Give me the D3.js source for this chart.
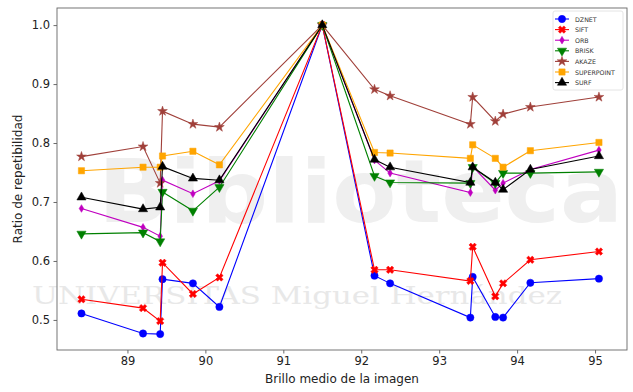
<!DOCTYPE html>
<html>
<head>
<meta charset="utf-8">
<script src="https://cdn.jsdelivr.net/npm/d3@7"></script>
<style>
  html, body { margin: 0; padding: 0; background: #fff; }
  svg { display: block; font-family: "DejaVu Sans", sans-serif; }
</style>
</head>
<body>
<svg id="chart" width="633" height="392"></svg>
<script>
// Mean image brightness for each test image
const brightness = [88.41, 89.20, 89.42, 89.45, 89.84, 90.18, 91.50, 92.17, 92.37, 93.40, 93.43, 93.72, 93.82, 94.17, 95.05];

// Repeatability ratio per detector
const dznet      = [0.511, 0.477, 0.476, 0.569, 0.562, 0.522, 1.0, 0.575, 0.562, 0.504, 0.573, 0.505, 0.504, 0.563, 0.570];
const sift       = [0.535, 0.520, 0.498, 0.597, 0.544, 0.572, 1.0, 0.585, 0.585, 0.566, 0.624, 0.540, 0.562, 0.602, 0.616];
const orb        = [0.689, 0.657, 0.642, 0.737, 0.714, 0.736, 1.0, 0.771, 0.749, 0.716, 0.760, 0.720, 0.732, 0.755, 0.788];
const brisk      = [0.646, 0.648, 0.633, 0.717, 0.685, 0.725, 1.0, 0.744, 0.733, 0.732, 0.759, 0.732, 0.749, 0.749, 0.751];
const akaze      = [0.777, 0.794, 0.732, 0.854, 0.832, 0.827, 1.0, 0.891, 0.880, 0.832, 0.878, 0.837, 0.849, 0.861, 0.878];
const superpoint = [0.753, 0.759, 0.759, 0.778, 0.786, 0.763, 1.0, 0.784, 0.783, 0.774, 0.797, 0.774, 0.759, 0.787, 0.801];
const surf       = [0.708, 0.688, 0.691, 0.760, 0.740, 0.737, 1.0, 0.772, 0.759, 0.733, 0.759, 0.733, 0.721, 0.755, 0.778];

const seriesNames = ["DZNET", "SIFT", "ORB", "BRISK", "AKAZE", "SUPERPOINT", "SURF"];
const xTicks = [89, 90, 91, 92, 93, 94, 95];
const yTicks = [0.5, 0.6, 0.7, 0.8, 0.9, 1.0];

const series = [
  { name: seriesNames[0], values: dznet,      color: "#0000ff", marker: "circle" },
  { name: seriesNames[1], values: sift,       color: "#ff0000", marker: "x" },
  { name: seriesNames[2], values: orb,        color: "#c000c0", marker: "thindiamond" },
  { name: seriesNames[3], values: brisk,      color: "#008000", marker: "tridown" },
  { name: seriesNames[4], values: akaze,      color: "#a0403a", marker: "star" },
  { name: seriesNames[5], values: superpoint, color: "#ffa500", marker: "square" },
  { name: seriesNames[6], values: surf,       color: "#000000", marker: "triup" }
];

const svg = d3.select("#chart");
const W = 633, H = 392;
const m = { left: 57, right: 6, top: 8, bottom: 42 };

const x = d3.scaleLinear().domain([88.096, 95.41]).range([m.left, W - m.right]);
const y = d3.scaleLinear().domain([0.449, 1.029]).range([H - m.bottom, m.top]);

// faint background watermark
const wm = svg.append("g").attr("opacity", 0.55);
wm.append("text").attr("x", 98).attr("y", 222)
  .attr("font-family", "DejaVu Sans, sans-serif").attr("font-weight", "bold")
  .attr("font-size", 88).attr("textLength", 525).attr("lengthAdjust", "spacingAndGlyphs")
  .attr("fill", "#e2e2e2").text("Biblioteca");
wm.append("text").attr("x", 32).attr("y", 304)
  .attr("font-family", "DejaVu Serif, serif")
  .attr("font-size", 24).attr("textLength", 530).attr("lengthAdjust", "spacingAndGlyphs")
  .attr("fill", "#d6d6d6").text("UNIVERSITAS Miguel Hernández");

// axes
const xAxis = d3.axisBottom(x).tickValues(xTicks).tickFormat(d3.format("d")).tickSize(3.5).tickPadding(3.5);
const yAxis = d3.axisLeft(y).tickValues(yTicks).tickFormat(d3.format(".1f")).tickSize(3.5).tickPadding(3.5);

const gx = svg.append("g").attr("transform", `translate(0,${H - m.bottom})`).call(xAxis);
const gy = svg.append("g").attr("transform", `translate(${m.left},0)`).call(yAxis);
[gx, gy].forEach(g => {
  g.select(".domain").remove();
  g.selectAll(".tick line").attr("stroke", "#444").attr("stroke-width", 0.8);
  g.selectAll(".tick text").attr("fill", "#222").attr("font-size", 11.5)
    .attr("font-family", "DejaVu Sans, sans-serif");
});

// plot frame
svg.append("rect")
  .attr("x", m.left).attr("y", m.top)
  .attr("width", W - m.left - m.right).attr("height", H - m.top - m.bottom)
  .attr("fill", "none").attr("stroke", "#666").attr("stroke-width", 0.9);

// axis titles
svg.append("text").attr("x", (m.left + W - m.right) / 2).attr("y", 383)
  .attr("text-anchor", "middle").attr("font-size", 12).attr("fill", "#222")
  .text("Brillo medio de la imagen");
svg.append("text")
  .attr("transform", `translate(22,${(m.top + H - m.bottom) / 2}) rotate(-90)`)
  .attr("text-anchor", "middle").attr("font-size", 12).attr("fill", "#222")
  .text("Ratio de repetibilidad");

// marker shapes
function markerPath(kind, s) {
  switch (kind) {
    case "circle": return d3.symbol(d3.symbolCircle, s * s * 0.85)();
    case "square": return d3.symbol(d3.symbolSquare, s * s * 0.8)();
    case "triup": return d3.symbol(d3.symbolTriangle, s * s * 0.75)();
    case "tridown": return d3.symbol(d3.symbolTriangle, s * s * 0.75)();
    case "star": return d3.symbol(d3.symbolStar, s * s * 0.6)();
    case "x": return d3.symbol(d3.symbolCross, s * s * 0.7)();
    case "thindiamond": {
      const h = s * 0.55, w = s * 0.33;
      return `M0,${-h}L${w},0L0,${h}L${-w},0Z`;
    }
  }
}
function markerRotate(kind) {
  if (kind === "tridown") return 180;
  if (kind === "x") return 45;
  return 0;
}

const line = d3.line().x((d, i) => x(brightness[i])).y(d => y(d));
const ms = 7;

series.forEach(s => {
  const g = svg.append("g");
  g.append("path").datum(s.values)
    .attr("d", line).attr("fill", "none")
    .attr("stroke", s.color).attr("stroke-width", 1.1);
  g.selectAll("path.mk").data(s.values).join("path")
    .attr("class", "mk")
    .attr("d", markerPath(s.marker, ms))
    .attr("transform", (d, i) => `translate(${x(brightness[i])},${y(d)}) rotate(${markerRotate(s.marker)})`)
    .attr("fill", s.color).attr("stroke", s.color).attr("stroke-width", 0.5);
});

// legend
const lg = svg.append("g").attr("transform", "translate(553,11)");
lg.append("rect").attr("width", 70).attr("height", 79).attr("rx", 2)
  .attr("fill", "#fff").attr("fill-opacity", 0.85)
  .attr("stroke", "#ddd").attr("stroke-width", 0.8);
series.forEach((s, i) => {
  const ry = 8 + i * 10.6;
  const row = lg.append("g").attr("transform", `translate(0,${ry})`);
  row.append("line").attr("x1", 2).attr("x2", 16).attr("stroke", s.color).attr("stroke-width", 1.1);
  row.append("path").attr("d", markerPath(s.marker, 7))
    .attr("transform", `translate(9,0) rotate(${markerRotate(s.marker)})`)
    .attr("fill", s.color).attr("stroke", s.color).attr("stroke-width", 0.5);
  row.append("text").attr("x", 22).attr("y", 2.5).attr("font-size", 6.3)
    .attr("fill", "#333").text(s.name);
});
</script>
</body>
</html>
